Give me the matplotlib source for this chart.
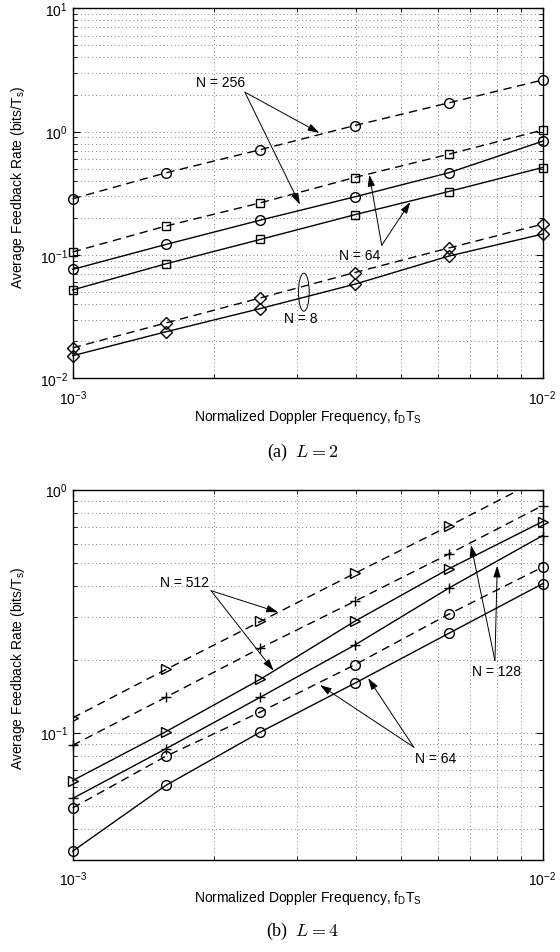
import matplotlib.pyplot as plt
from matplotlib.patches import Ellipse
from matplotlib.ticker import NullFormatter

plt.rcParams['font.family'] = ['Liberation Sans', 'DejaVu Sans']
plt.rcParams['mathtext.fontset'] = 'custom'
plt.rcParams['mathtext.rm'] = 'Liberation Sans'
plt.rcParams['mathtext.it'] = 'Liberation Sans:italic'

# normalized doppler frequency f_D T_S
fd = [0.001, 0.00158, 0.00251, 0.00398, 0.00631, 0.01]

# (a) L = 2
a_n256_dash = [0.286, 0.464, 0.715, 1.12, 1.71, 2.62]
a_n256_solid = [0.0766, 0.122, 0.192, 0.296, 0.464, 0.836]
a_n64_dash = [0.106, 0.172, 0.265, 0.425, 0.656, 1.03]
a_n64_solid = [0.0522, 0.085, 0.134, 0.212, 0.327, 0.512]
a_n8_dash = [0.0177, 0.0282, 0.045, 0.0721, 0.114, 0.178]
a_n8_solid = [0.0153, 0.0239, 0.0369, 0.058, 0.098, 0.148]

# (b) L = 4
b_n512_dash = [0.115, 0.182, 0.287, 0.452, 0.707, 1.12]
b_n512_solid = [0.0635, 0.101, 0.166, 0.287, 0.472, 0.739]
b_n128_dash = [0.0887, 0.140, 0.223, 0.347, 0.543, 0.86]
b_n128_solid = [0.0536, 0.0859, 0.140, 0.229, 0.393, 0.647]
b_n64_dash = [0.049, 0.080, 0.1217, 0.190, 0.307, 0.48]
b_n64_solid = [0.0325, 0.0607, 0.1006, 0.1595, 0.256, 0.41]

xlab = 'Normalized Doppler Frequency, f$_\\mathregular{D}$T$_\\mathregular{S}$'
ylab = 'Average Feedback Rate (bits/T$_\\mathregular{s}$)'


def style_axes(ax, ylim):
    ax.set_xscale('log')
    ax.set_yscale('log')
    ax.set_xlim(1e-3, 1e-2)
    ax.set_ylim(*ylim)
    ax.xaxis.set_minor_formatter(NullFormatter())
    ax.yaxis.set_minor_formatter(NullFormatter())
    ax.grid(True, which='both', color='0.35', linestyle=(0, (1, 3.5)), lw=0.6)
    ax.tick_params(which='both', direction='in', top=True, right=True, labelsize=10)
    ax.tick_params(which='major', length=5)
    ax.tick_params(which='minor', length=3)
    ax.tick_params(axis='x', which='major', pad=7)
    for s in ax.spines.values():
        s.set_linewidth(1.0)
    ax.set_xlabel(xlab, fontsize=10, labelpad=0)
    ax.set_ylabel(ylab, fontsize=10)
    ax.yaxis.set_label_coords(-0.097, 0.52)


def curve(ax, y, marker, dashed, ms=7):
    ls = (0, (6, 4)) if dashed else '-'
    ax.plot(fd, y, color='k', lw=1.0, linestyle=ls, marker=marker, ms=ms,
            mfc='none', mec='k', mew=1.0, clip_on=False)


def arrow(ax, tail, tip):
    ax.annotate('', xy=tip, xytext=tail,
                arrowprops=dict(arrowstyle='-|>,head_length=0.7,head_width=0.22',
                                color='k', lw=0.7, shrinkA=0, shrinkB=0))


fig = plt.figure(figsize=(5.6, 9.53), dpi=100)
ax1 = fig.add_axes([0.1298, 0.6018, 0.839, 0.3885])
ax2 = fig.add_axes([0.1298, 0.0969, 0.839, 0.3882])

# ---- (a) L = 2
style_axes(ax1, (1e-2, 1e1))
curve(ax1, a_n256_dash, 'o', True)
curve(ax1, a_n256_solid, 'o', False)
curve(ax1, a_n64_dash, 's', True, ms=6)
curve(ax1, a_n64_solid, 's', False, ms=6)
curve(ax1, a_n8_dash, 'D', True, ms=6)
curve(ax1, a_n8_solid, 'D', False, ms=6)

ax1.text(0.002064, 2.52, 'N = 256', ha='center', va='center', fontsize=10)
arrow(ax1, (0.002325, 2.09), (0.00335, 0.977))
arrow(ax1, (0.002325, 2.09), (0.003046, 0.256))

ax1.text(0.004072, 0.1008, 'N = 64', ha='center', va='center', fontsize=10)
arrow(ax1, (0.004547, 0.12), (0.004279, 0.448))
arrow(ax1, (0.004547, 0.12), (0.005232, 0.269))

ax1.text(0.003052, 0.031, 'N = 8', ha='center', va='center', fontsize=10)
ax1.add_patch(Ellipse((0.492, 0.233), 0.0228, 0.1026, transform=ax1.transAxes,
                      fill=False, ec='k', lw=0.7))

# ---- (b) L = 4
style_axes(ax2, (0.03, 1.0))
curve(ax2, b_n512_dash, '>', True)
curve(ax2, b_n512_solid, '>', False)
curve(ax2, b_n128_dash, '+', True)
curve(ax2, b_n128_solid, '+', False)
curve(ax2, b_n64_dash, 'o', True)
curve(ax2, b_n64_solid, 'o', False)
ax2.lines[0].set_clip_on(True)

ax2.text(0.001727, 0.416, 'N = 512', ha='center', va='center', fontsize=10)
arrow(ax2, (0.00197, 0.384), (0.002737, 0.313))
arrow(ax2, (0.00197, 0.384), (0.002676, 0.18))

ax2.text(0.00799, 0.18, 'N = 128', ha='center', va='center', fontsize=10)
arrow(ax2, (0.00792, 0.198), (0.007043, 0.592))
arrow(ax2, (0.00792, 0.198), (0.00801, 0.487))

ax2.text(0.005935, 0.0785, 'N = 64', ha='center', va='center', fontsize=10)
arrow(ax2, (0.005323, 0.0871), (0.00336, 0.157))
arrow(ax2, (0.005323, 0.0871), (0.004254, 0.1675))

fig.text(0.54, 0.525, '(a)  $L = 2$', ha='center', va='center', fontsize=13,
         family='Liberation Serif', math_fontfamily='cm')
fig.text(0.54, 0.0224, '(b)  $L = 4$', ha='center', va='center', fontsize=13,
         family='Liberation Serif', math_fontfamily='cm')

fig.savefig('out.png', dpi=100)
